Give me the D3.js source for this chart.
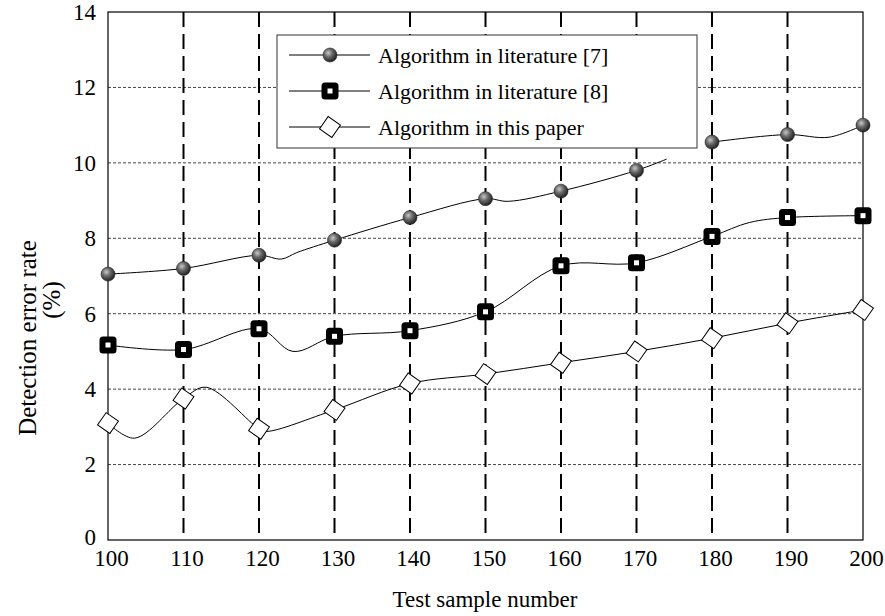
<!DOCTYPE html>
<html>
<head>
<meta charset="utf-8">
<script src="https://cdn.jsdelivr.net/npm/d3@7/dist/d3.min.js"></script>
<style>
  html, body { margin: 0; padding: 0; background: #fff; }
  svg { display: block; font-family: "Liberation Serif", "Times New Roman", serif; }
</style>
</head>
<body>
<svg id="chart" width="885" height="616"></svg>
<script>
// values
const samples = [100, 110, 120, 130, 140, 150, 160, 170, 180, 190, 200];
const lit7 = [7.05, 7.2, 7.55, 7.95, 8.55, 9.05, 9.25, 9.8, 10.55, 10.75, 11.0];
const lit8 = [5.17, 5.05, 5.6, 5.4, 5.55, 6.05, 7.27, 7.35, 8.05, 8.55, 8.6];
const ours = [3.1, 3.75, 2.95, 3.45, 4.15, 4.4, 4.7, 5.0, 5.35, 5.75, 6.1];

// extra bends of the drawn curves (between markers)
const lit7Bends = [[123, 7.45], [125, 7.62], [153, 8.98], [174, 10.1], [195.5, 10.68]];
const lit8Bends = [[124.5, 5.0], [185, 8.42]];
const oursBends = [[103.5, 2.7], [113, 4.05], [121, 2.88]];

const yTicks = [0, 2, 4, 6, 8, 10, 12, 14];
const gridX = [110, 120, 130, 140, 150, 160, 170, 180, 190];
const legendLabels = ["Algorithm in literature [7]", "Algorithm in literature [8]", "Algorithm in this paper"];

const width = 885, height = 616;
const margin = { top: 12, right: 22, bottom: 76, left: 108 };
const serif = "Liberation Serif, Times New Roman, serif";

const svg = d3.select("#chart");

const x = d3.scaleLinear().domain([100, 200]).range([margin.left, width - margin.right]);
const y = d3.scaleLinear().domain([0, 14]).range([height - margin.bottom, margin.top]);

// defs: sphere marker gradient
const defs = svg.append("defs");
const grad = defs.append("radialGradient").attr("id", "ball").attr("cx", "38%").attr("cy", "35%").attr("r", "65%");
grad.append("stop").attr("offset", "0%").attr("stop-color", "#c8c8c8");
grad.append("stop").attr("offset", "45%").attr("stop-color", "#6a6a6a");
grad.append("stop").attr("offset", "100%").attr("stop-color", "#222");

// horizontal grid
svg.append("g")
  .selectAll("line")
  .data(yTicks.filter((d) => d > 0 && d < 14))
  .join("line")
  .attr("x1", x(100)).attr("x2", x(200))
  .attr("y1", (d) => y(d)).attr("y2", (d) => y(d))
  .attr("stroke", "#444").attr("stroke-width", 1)
  .attr("stroke-dasharray", "3,2");

// vertical dashed lines
svg.append("g")
  .selectAll("line")
  .data(gridX)
  .join("line")
  .attr("x1", (d) => x(d)).attr("x2", (d) => x(d))
  .attr("y1", y(14)).attr("y2", y(0))
  .attr("stroke", "#000").attr("stroke-width", 2)
  .attr("stroke-dasharray", "15,7");

// frame
svg.append("rect")
  .attr("x", x(100)).attr("y", y(14))
  .attr("width", x(200) - x(100)).attr("height", y(0) - y(14))
  .attr("fill", "none").attr("stroke", "#000").attr("stroke-width", 1.2);

// axes (labels only)
const yAxis = svg.append("g")
  .attr("transform", `translate(${x(100) - 2},0)`)
  .call(d3.axisLeft(y).tickValues(yTicks).tickSize(0).tickPadding(10));
const xAxis = svg.append("g")
  .attr("transform", `translate(3,${y(0)})`)
  .call(d3.axisBottom(x).tickValues(samples).tickSize(0).tickPadding(10));
[yAxis, xAxis].forEach((g) => {
  g.select(".domain").remove();
  g.selectAll("text").attr("font-size", 23).attr("fill", "#000").attr("font-family", serif);
});
yAxis.selectAll("text").filter((d) => d === 0).attr("dy", "0.2em");

// axis titles
svg.append("text")
  .attr("x", 485).attr("y", 607)
  .attr("text-anchor", "middle").attr("font-size", 23)
  .text("Test sample number");
svg.append("text")
  .attr("transform", "translate(36,338) rotate(-90)")
  .attr("text-anchor", "middle").attr("font-size", 25)
  .text("Detection error rate");
svg.append("text")
  .attr("transform", "translate(60,300) rotate(-90)")
  .attr("text-anchor", "middle").attr("font-size", 25)
  .text("(%)");

// curves
const line = d3.line()
  .x((d) => x(d[0])).y((d) => y(d[1]))
  .curve(d3.curveCatmullRom.alpha(0.5));

function knots(vals, bends) {
  return samples.map((s, i) => [s, vals[i]]).concat(bends).sort((a, b) => a[0] - b[0]);
}

const k7 = knots(lit7, lit7Bends);
const lines = svg.append("g").attr("fill", "none").attr("stroke", "#000").attr("stroke-width", 1);
// literature [7] curve breaks between ~174 and 180
lines.append("path").attr("d", line(k7.filter((d) => d[0] <= 174)));
lines.append("path").attr("d", line(k7.filter((d) => d[0] >= 180)));
lines.append("path").attr("d", line(knots(lit8, lit8Bends)));
lines.append("path").attr("d", line(knots(ours, oursBends)));

// markers
function ball(g) {
  g.append("circle").attr("r", 7).attr("fill", "url(#ball)").attr("stroke", "#222").attr("stroke-width", 0.6);
}
function box(g) {
  g.append("rect").attr("x", -8.5).attr("y", -8.5).attr("width", 17).attr("height", 17)
    .attr("rx", 3.5).attr("fill", "#000");
  g.append("rect").attr("x", -2.5).attr("y", -2.5).attr("width", 5).attr("height", 5).attr("fill", "#fff");
}
function diamond(g) {
  g.append("rect").attr("x", -7.5).attr("y", -7.5).attr("width", 15).attr("height", 15)
    .attr("transform", "rotate(35)")
    .attr("fill", "#fff").attr("stroke", "#000").attr("stroke-width", 1);
}

const series = [
  { vals: lit7, draw: ball },
  { vals: lit8, draw: box },
  { vals: ours, draw: diamond }
];

series.forEach((s) => {
  svg.append("g")
    .selectAll("g")
    .data(samples.map((v, i) => [v, s.vals[i]]))
    .join("g")
    .attr("transform", (d) => `translate(${x(d[0])},${y(d[1])})`)
    .each(function () { s.draw(d3.select(this)); });
});

// legend
const legend = svg.append("g");
legend.append("rect")
  .attr("x", 277).attr("y", 35).attr("width", 420).attr("height", 113)
  .attr("fill", "#fff").attr("stroke", "#333").attr("stroke-width", 1);
const rowY = [55, 91, 127];
legendLabels.forEach((label, i) => {
  const row = legend.append("g").attr("transform", `translate(0,${rowY[i]})`);
  row.append("line").attr("x1", 289).attr("x2", 370).attr("y1", 0).attr("y2", 0)
    .attr("stroke", "#000").attr("stroke-width", 1);
  series[i].draw(row.append("g").attr("transform", "translate(330,0)"));
  row.append("text").attr("x", 378).attr("y", 8).attr("font-size", 22).text(label);
});
</script>
</body>
</html>
